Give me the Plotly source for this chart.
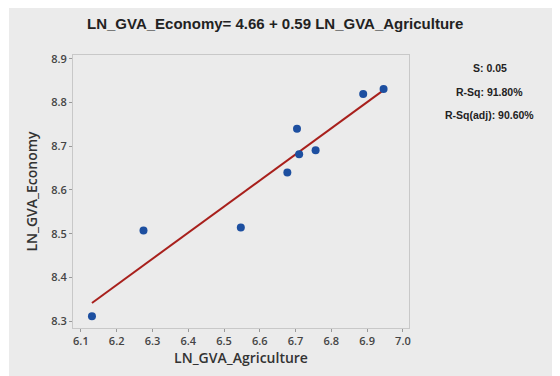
import numpy as np
import plotly.graph_objects as go

# LN values
ln_agri = [6.131, 6.275, 6.547, 6.677, 6.704, 6.710, 6.756, 6.889, 6.946]
ln_econ = [8.311, 8.507, 8.514, 8.640, 8.740, 8.682, 8.691, 8.820, 8.831]

x_ticks = [6.1, 6.2, 6.3, 6.4, 6.5, 6.6, 6.7, 6.8, 6.9, 7.0]
y_ticks = [8.3, 8.4, 8.5, 8.6, 8.7, 8.8, 8.9]

stats = ["S: 0.05", "R-Sq: 91.80%", "R-Sq(adj): 90.60%"]

# fitted line
b, a = np.polyfit(ln_agri, ln_econ, 1)
xl = np.array([min(ln_agri), max(ln_agri)])
yl = a + b * xl

fig = go.Figure()
fig.add_trace(go.Scatter(x=xl, y=yl, mode="lines",
                         line=dict(color="#a8201c", width=2), hoverinfo="skip"))
fig.add_trace(go.Scatter(x=ln_agri, y=ln_econ, mode="markers",
                         marker=dict(color="#1d4fa0", size=8)))

# grey panel behind everything
fig.add_shape(type="rect", xref="paper", yref="paper",
              x0=-0.1905, x1=1.5, y0=-0.25, y1=1.2,
              fillcolor="#ebebeb", line_width=0, layer="below")

fig.add_annotation(text="<b>LN_GVA_Economy= 4.66 + 0.59 LN_GVA_Agriculture</b>",
                   xref="paper", yref="paper", x=0.6, y=1.117,
                   showarrow=False, xanchor="center", yanchor="middle",
                   font=dict(family="Liberation Sans, Arial", size=15, color="#222222"))

for i, s in enumerate(stats):
    fig.add_annotation(text="<b>" + s + "</b>", xref="paper", yref="paper",
                       x=1.241, y=0.952 - i * 0.086, showarrow=False,
                       xanchor="center", yanchor="middle",
                       font=dict(family="Liberation Sans, Arial", size=10.5, color="#222222"))

axis_font = dict(family="Open Sans", size=11, color="#444444", weight=600)
title_font = dict(family="Open Sans", size=14, color="#333333", weight=600)
fig.update_xaxes(range=[6.078, 7.017], tickvals=x_ticks, ticktext=[f"{t:.1f}" for t in x_ticks],
                 showgrid=False, zeroline=False, showline=True, mirror=True,
                 linecolor="#c8c8c8", linewidth=1, ticks="outside", ticklen=3,
                 tickcolor="#999999", tickfont=axis_font, automargin=False,
                 title=dict(text="LN_GVA_Agriculture", standoff=2, font=title_font))
fig.update_yaxes(range=[8.284, 8.909], tickvals=y_ticks, ticktext=[f"{t:.1f}" for t in y_ticks],
                 showgrid=False, zeroline=False, showline=True, mirror=True,
                 linecolor="#c8c8c8", linewidth=1, ticks="outside", ticklen=3,
                 tickcolor="#999999", tickfont=axis_font, automargin=False,
                 title=dict(text="LN_GVA_Economy", standoff=10, font=title_font))

# the page body adds an 8px offset, so margins are shifted to compensate
fig.update_layout(width=560, height=376, showlegend=False,
                  margin=dict(l=65, r=159, t=47, b=56),
                  paper_bgcolor="white", plot_bgcolor="white")

fig.write_html("out.html")
